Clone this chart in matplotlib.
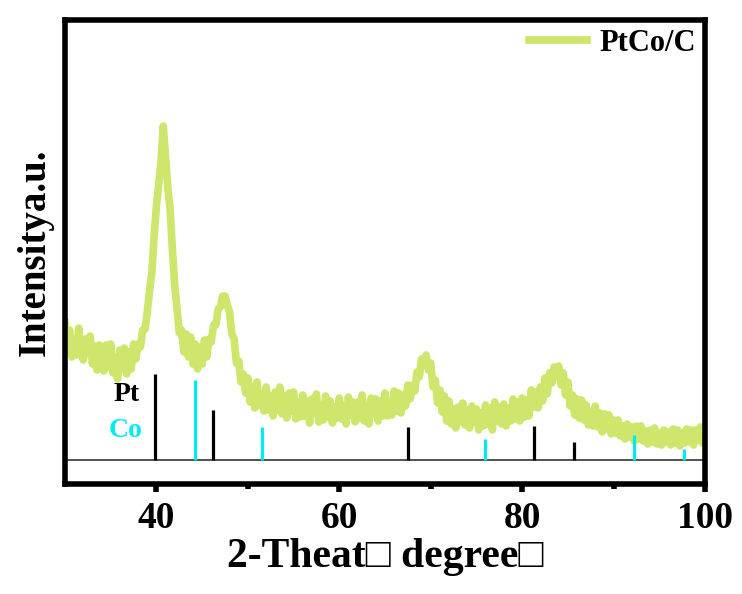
import numpy as np
import matplotlib
matplotlib.use("Agg")
import matplotlib.pyplot as plt

plt.rcParams['font.family'] = ['Liberation Serif', 'DejaVu Serif']
plt.rcParams['font.weight'] = 'bold'

# XRD scan, 2-theta from 30 to 100 deg in 0.25 deg steps
two_theta = np.arange(30.0, 100.001, 0.25)
intensity = [
    138, 112, 130, 103, 121, 105, 132, 107,   # 30
    100, 121, 107, 124, 96, 114, 90, 115,     # 32
    108, 89, 115, 93, 116, 87, 102, 81,       # 34
    110, 91, 112, 86, 108, 91, 116, 101,      # 36
    116, 113, 130, 131, 148, 169, 188, 224,   # 38
    254, 276, 298, 334, 303, 272, 250, 210,   # 40
    175, 152, 127, 130, 108, 126, 103, 123,   # 42
    96, 116, 91, 113, 96, 120, 103, 121,      # 44
    118, 135, 135, 151, 153, 164, 164, 155,   # 46
    148, 126, 121, 97, 99, 78, 86, 67,        # 48
    82, 58, 73, 52, 78, 55, 66, 49,           # 50
    73, 50, 64, 44, 68, 50, 73, 46,           # 52
    64, 42, 67, 49, 68, 41, 57, 43,           # 54
    65, 44, 59, 37, 61, 47, 66, 38,           # 56
    55, 40, 64, 43, 59, 37, 53, 42,           # 58
    62, 41, 54, 36, 63, 45, 58, 38,           # 60
    58, 42, 65, 39, 54, 36, 62, 46,           # 62
    61, 39, 59, 44, 67, 44, 58, 45,           # 64
    69, 49, 67, 47, 65, 54, 75, 61,           # 66
    75, 69, 88, 83, 101, 97, 105, 90,         # 68
    97, 73, 80, 57, 70, 48, 64, 39,           # 70
    59, 36, 51, 32, 53, 38, 57, 35,           # 72
    50, 32, 54, 38, 51, 30, 47, 34,           # 74
    55, 36, 52, 30, 58, 39, 53, 36,           # 76
    56, 34, 52, 39, 61, 41, 58, 39,           # 78
    62, 43, 60, 44, 70, 53, 68, 52,           # 80
    73, 59, 82, 66, 87, 77, 93, 84,           # 82
    94, 75, 87, 65, 78, 54, 65, 45,           # 84
    61, 42, 60, 40, 55, 35, 48, 34,           # 86
    54, 33, 47, 28, 46, 31, 45, 26,           # 88
    40, 27, 40, 24, 34, 21, 36, 23,           # 90
    33, 19, 34, 21, 34, 19, 29, 16,           # 92
    30, 18, 32, 16, 27, 15, 30, 18,           # 94
    28, 15, 31, 17, 30, 14, 27, 17,           # 96
    31, 18, 30, 15, 30, 20, 33, 17,           # 98
    29,
]

# standard reference lines
pt_pos = [39.8, 46.2, 67.5, 81.3, 85.7]
pt_int = [86, 50, 33, 34, 18]
co_pos = [44.2, 51.5, 75.9, 92.2, 97.7]
co_int = [80, 33, 21, 25, 11]

green = '#cde66b'
cyan = '#00ecf5'

fig = plt.figure(figsize=(7.42, 5.94), dpi=100)
ax = fig.add_axes([0.0876, 0.1852, 0.8625, 0.7811])

ax.plot(two_theta, intensity, color=green, lw=5.5, label='PtCo/C')

ax.axhline(0, color='#333333', lw=1.2)
ax.vlines(pt_pos, 0, pt_int, color='black', lw=2.3)
ax.vlines(co_pos, 0, co_int, color=cyan, lw=2.3)
ax.text(36.7, 65, 'Pt', color='black', fontsize=20, fontweight='bold',
        ha='center', va='center')
ax.text(36.6, 29, 'Co', color=cyan, fontsize=20, fontweight='bold',
        ha='center', va='center')

ax.set_xlim(30, 100)
ax.set_ylim(-24, 440)
ax.set_xticks([40, 60, 80, 100])
ax.set_xticks([50, 70, 90], minor=True)
ax.set_yticks([])
ax.tick_params(axis='x', which='major', direction='out', length=6, width=4,
               labelsize=27, pad=6)
ax.tick_params(axis='x', which='minor', direction='out', length=3.5, width=4)
for s in ax.spines.values():
    s.set_linewidth(4)

ax.set_xlabel('2-Theat\u25a1 degree\u25a1', fontsize=30, fontweight='bold',
              labelpad=2)
ax.set_ylabel('Intensitya.u.', fontsize=28, fontweight='bold', labelpad=8)

leg = ax.legend(loc='upper right', frameon=False, fontsize=22,
                handlelength=1.9, handletextpad=0.4, borderpad=0.2,
                borderaxespad=0.1, bbox_to_anchor=(1.0, 1.0))

fig.savefig('out.png', dpi=100)
